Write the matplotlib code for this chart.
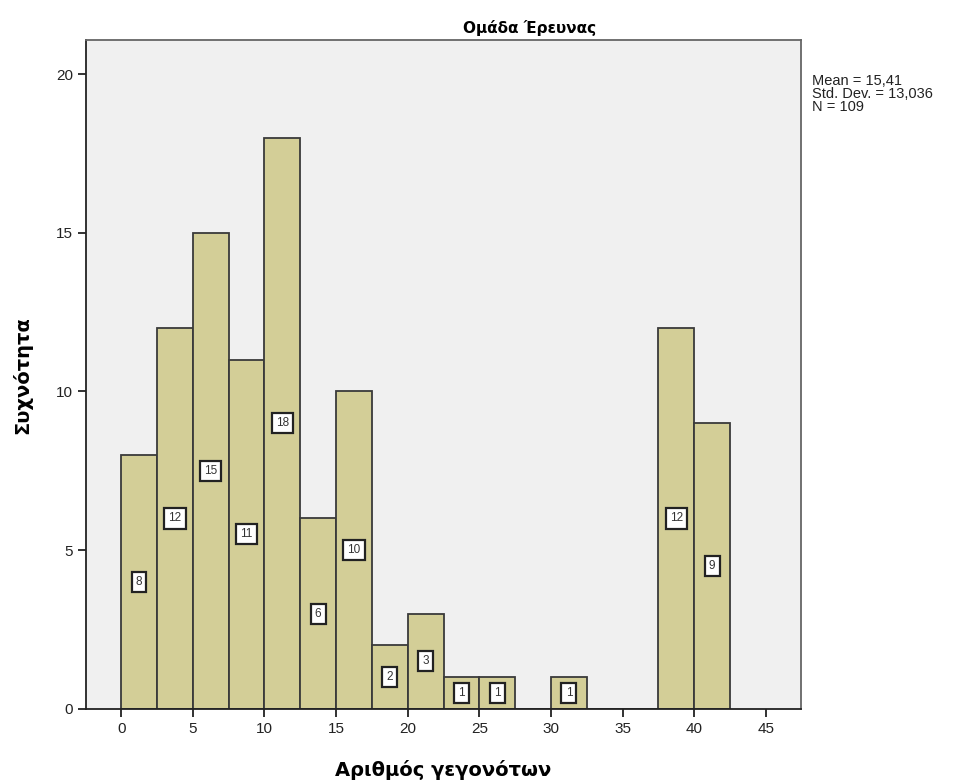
import matplotlib.pyplot as plt

# Συχνότητες ανά διάστημα πλάτους 2,5
bin_edges = [0, 2.5, 5, 7.5, 10, 12.5, 15, 17.5, 20, 22.5, 25, 27.5, 30, 32.5, 35, 37.5, 40, 42.5]
counts = [8, 12, 15, 11, 18, 6, 10, 2, 3, 1, 1, 0, 1, 0, 0, 12, 9]
x_ticks = [0, 5, 10, 15, 20, 25, 30, 35, 40, 45]
y_ticks = [0, 5, 10, 15, 20]
stats_text = "Mean = 15,41\nStd. Dev. = 13,036\nN = 109"

plt.rcParams['font.family'] = ['Liberation Sans', 'DejaVu Sans']

fig = plt.figure(figsize=(9.7, 7.82), dpi=100)
ax = fig.add_axes([0.0887, 0.0934, 0.7371, 0.8554])
ax.set_facecolor('#f0f0f0')

lefts = bin_edges[:-1]
width = 2.5
ax.bar(lefts, counts, width=width, align='edge', color='#d3ce97',
       edgecolor='#3a3a3a', linewidth=1.3, zorder=2)

# Etiquetas con la frecuencia en el centro de cada barra
for x, c in zip(lefts, counts):
    if c == 0:
        continue
    ax.text(x + width / 2, c / 2, str(c), ha='center', va='center', fontsize=8.5,
            color='#333333', zorder=3,
            bbox=dict(boxstyle='square,pad=0.35', facecolor='white',
                      edgecolor='#222222', linewidth=1.6))

ax.set_xlim(-2.45, 47.45)
ax.set_ylim(0, 21.07)
ax.set_xticks(x_ticks)
ax.set_yticks(y_ticks)
ax.tick_params(direction='out', length=6, width=1.3, labelsize=11,
               labelcolor='#222222', color='#222222')

for side in ['left', 'bottom']:
    ax.spines[side].set_color('#222222')
    ax.spines[side].set_linewidth(1.3)
for side in ['top', 'right']:
    ax.spines[side].set_color('#666666')
    ax.spines[side].set_linewidth(1.3)

fig.text(530 / 970, 1 - 28 / 782, 'Ομάδα Έρευνας', ha='center', va='center',
         fontsize=11, fontweight='bold', family=['DejaVu Sans'])
fig.text(443 / 970, 1 - 770 / 782, 'Αριθμός γεγονότων', ha='center', va='center',
         fontsize=14, fontweight='bold', family=['DejaVu Sans'])
fig.text(22 / 970, 1 - 375 / 782, 'Συχνότητα', ha='center', va='center',
         rotation=90, fontsize=14, fontweight='bold', family=['DejaVu Sans'])
fig.text(812 / 970, 1 - 74 / 782, stats_text, ha='left', va='top',
         fontsize=10.5, color='#222222', linespacing=0.92)

plt.savefig('out.png', dpi=100)
